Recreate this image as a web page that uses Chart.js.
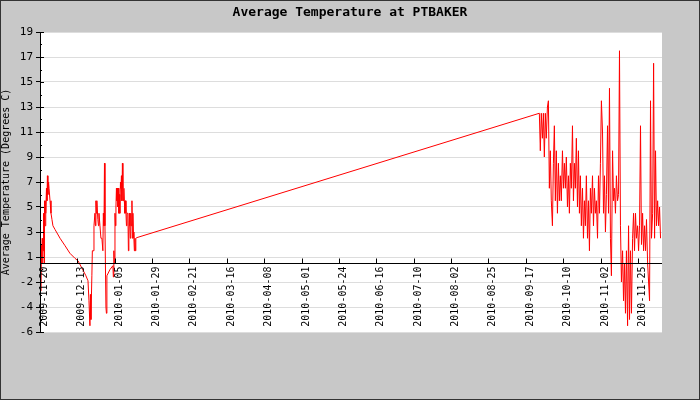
<!DOCTYPE html>
<html><head><meta charset="utf-8">
<script src="https://cdn.jsdelivr.net/npm/chart.js@4"></script>
<style>html,body{margin:0;padding:0;background:#c8c8c8}#w{width:700px;height:400px}</style>
</head><body><div id="w"><canvas id="c"></canvas></div>
<script>
// days since 2009-11-20
const leftDays=[0,0.3,0.6,0.9,1.2,1.5,1.9,2.2,2.5,2.8,3.1,3.4,3.7,4.0,4.3,4.6,4.9,5.3,5.6,6.2,6.8,7.4,8.0,9.3,12.4,15.5,18.5,21.6,23.5,26.0,28.4,29.7,30.3,30.9,31.2,31.5,32.1,32.4,32.8,33.4,34.0,34.3,34.6,34.9,35.2,35.8,36.2,36.5,37.1,37.7,38.3,38.9,39.2,39.6,39.9,40.2,40.8,41.1,41.4,43.3,45.1,45.4,45.7,46.0,46.4,46.7,47.0,47.3,47.6,47.9,48.2,48.5,48.8,49.1,49.4,49.8,50.1,50.4,50.7,51.0,51.3,51.6,51.9,52.2,52.5,52.9,53.2,53.5,53.8,54.4,54.7,55.0,55.3,55.6,55.9,56.2,56.5,56.9,57.2,57.5,57.8,58.1,58.4,58.7,59.0,59.3,59.9];
const leftTemps=[1.5,2.5,-1.7,2.0,0.5,2.5,1.5,4.5,0.5,5.5,3.5,5.5,4.5,6.5,5.5,7.5,6.0,7.0,6.5,5.5,4.5,4.0,3.5,3.2,2.5,1.9,1.3,0.9,0.7,0.1,-0.5,-0.9,-2.5,-4.5,-2.0,-4.0,-0.5,1.5,1.5,3.5,4.5,3.5,5.5,4.5,5.5,4.0,3.5,4.5,3.5,2.5,2.5,1.5,4.5,3.5,8.5,3.5,-3.0,-3.5,-0.5,0.0,0.3,-0.6,1.5,0.5,4.5,3.5,5.0,6.5,5.5,6.5,5.0,6.5,4.5,6.0,4.5,7.0,6.5,7.5,5.5,8.5,6.5,5.5,6.5,5.5,4.5,5.5,4.5,3.5,4.5,4.5,1.5,3.0,4.5,3.5,2.5,4.5,3.5,5.5,2.5,4.5,3.0,2.5,1.5,2.5,1.5,2.5,2.55];
const rightDays=[309.0,309.6,310.2,310.9,311.5,312.1,312.7,313.3,314.0,314.6,315.2,315.8,316.4,317.1,317.7,318.3,318.9,319.5,320.2,320.8,321.4,322.0,322.6,323.3,323.9,324.5,325.1,325.7,326.4,327.0,327.6,328.2,328.8,329.5,330.1,330.7,331.3,331.9,332.6,333.2,333.8,334.4,335.0,335.7,336.3,336.9,337.5,338.1,338.8,339.4,340.0,340.6,341.2,341.9,342.5,343.1,343.7,344.3,345.0,345.6,346.2,346.8,347.4,348.1,348.7,349.3,349.9,350.5,351.2,351.8,352.4,353.0,353.6,354.3,354.9,355.5,356.1,356.7,357.4,358.0,358.6,359.2,359.8,360.5,361.1,361.7,362.3,362.9,363.6,364.2,364.8,365.4,366.0,366.7,367.3,367.9,368.5,369.1,369.8,370.4,371.0,371.6,372.2,372.9,373.5,374.1,374.7,375.3,376.0,376.6,377.2,377.8,378.4,379.1,379.7,380.3,380.9,381.5,382.2,382.8,383.4,384.0];
const rightTemps=[12.5,9.5,12.5,10.5,12.5,9.0,12.5,10.5,13.0,13.5,6.5,9.5,5.5,3.5,8.5,11.5,5.5,9.5,4.5,8.5,5.5,7.5,5.5,9.5,6.5,8.5,6.5,9.0,5.0,7.5,4.5,8.5,6.5,11.5,5.5,8.5,6.5,10.5,5.0,9.5,4.5,7.5,3.5,6.5,2.5,5.5,3.5,7.5,2.5,5.5,1.5,6.5,4.5,7.5,3.5,6.5,4.5,5.5,2.5,7.5,4.5,8.5,13.5,11.0,4.5,7.5,3.0,6.0,11.5,4.5,14.5,2.5,-0.5,9.5,5.5,6.5,4.5,7.5,5.5,6.0,17.5,3.5,-1.0,1.5,-2.5,0.5,-3.5,1.5,-4.5,3.5,-4.0,1.5,-3.5,2.5,4.5,1.5,4.5,2.5,3.5,1.5,3.5,11.5,2.0,4.5,1.5,3.5,1.5,4.0,0.5,-1.0,-2.5,13.5,2.5,4.5,16.5,2.5,9.5,3.5,5.5,3.5,5.0,2.5];
const tickDays=[0,23.125,46.25,69.375,92.5,115.625,138.75,161.875,185,208.125,231.25,254.375,277.5,300.625,323.75,346.875,370];
const tickLabels=["2009-11-20","2009-12-13","2010-01-05","2010-01-29","2010-02-21","2010-03-16","2010-04-08","2010-05-01","2010-05-24","2010-06-16","2010-07-10","2010-08-02","2010-08-25","2010-09-17","2010-10-10","2010-11-02","2010-11-25"];
const axisValue=0.53;
const FONT="'DejaVu Sans Mono', monospace";

const pts=[];
leftDays.forEach((d,i)=>pts.push({x:d,y:leftTemps[i]}));
rightDays.forEach((d,i)=>pts.push({x:d,y:rightTemps[i]}));

const deco={id:'deco',
 beforeDraw(ch){const c=ch.ctx,a=ch.chartArea;c.save();c.fillStyle='#c8c8c8';c.fillRect(0,0,ch.width,ch.height);
  c.fillStyle='#fff';c.fillRect(a.left,a.top,a.right-a.left,a.bottom-a.top);c.restore();},
 afterDatasetsDraw(ch){const c=ch.ctx,a=ch.chartArea,xs=ch.scales.x,ys=ch.scales.y;c.save();
  const y0=Math.round(ys.getPixelForValue(axisValue))+0.5;
  c.strokeStyle='#000';c.lineWidth=1;c.beginPath();c.moveTo(a.left,y0);c.lineTo(a.right,y0);c.stroke();
  c.beginPath();c.moveTo(a.left+0.5,a.top);c.lineTo(a.left+0.5,a.bottom);c.stroke();
  // minor y ticks
  for(let v=-5;v<=19;v++){const py=Math.round(ys.getPixelForValue(v))+0.5;c.beginPath();c.moveTo(a.left,py);c.lineTo(a.left+(v%2?4:2)*1,py);c.stroke();}
  c.font='10px '+FONT;c.fillStyle='#000';c.textAlign='right';c.textBaseline='middle';
  tickDays.forEach((d,i)=>{const px=Math.round(xs.getPixelForValue(d))+0.5;
   c.beginPath();c.moveTo(px,y0);c.lineTo(px,y0-5);c.stroke();
   c.save();c.translate(px+4,y0+3);c.rotate(-Math.PI/2);c.fillText(tickLabels[i],0,0);c.restore();});
  c.font='bold 13px '+FONT;c.textAlign='center';c.textBaseline='middle';c.fillText('Average Temperature at PTBAKER',350,13);
  c.strokeStyle='#333';c.strokeRect(0.5,0.5,ch.width-1,ch.height-1);
  c.restore();}};

new Chart(document.getElementById('c'),{type:'line',
 data:{datasets:[{data:pts,borderColor:'#ff0000',borderWidth:1,pointRadius:0,tension:0,fill:false}]},
 options:{responsive:true,maintainAspectRatio:false,animation:false,events:[],
  layout:{padding:{left:0,right:38,top:32,bottom:68}},
  plugins:{legend:{display:false},tooltip:{enabled:false}},
  scales:{
   x:{type:'linear',display:false,min:0,max:384.9},
   y:{type:'linear',min:-5,max:19,afterFit(s){s.width=40;},
    ticks:{stepSize:2,font:{family:FONT,size:11},color:'#000',padding:3,callback:v=>v<0?v-1:v},
    title:{display:true,text:'Average Temperature (Degrees C)',font:{family:FONT,size:10},color:'#000',padding:{top:0,bottom:0}},
    grid:{color:'#dddddd',drawTicks:true,tickLength:4,tickColor:'#000'},border:{display:false}}
  }},plugins:[deco]});
</script></body></html>
